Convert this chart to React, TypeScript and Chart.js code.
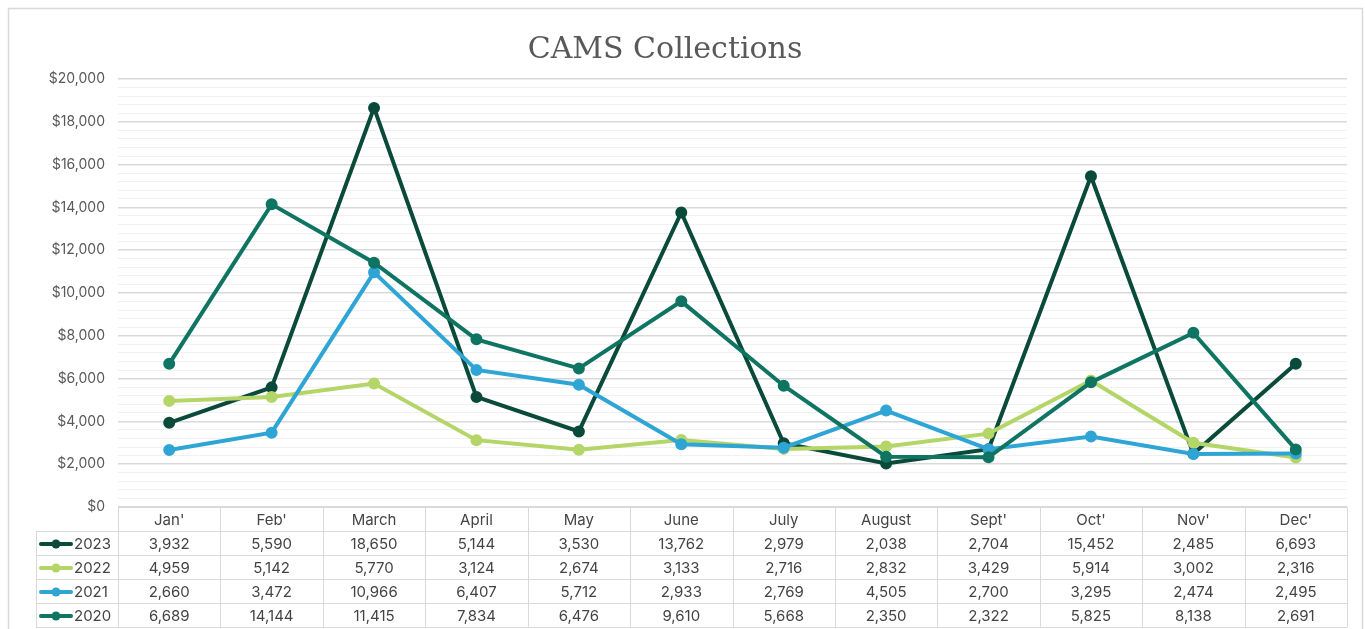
import React, { useEffect, useRef } from 'react';
import { Chart, registerables } from 'chart.js';

Chart.register(...registerables);

const TITLE = 'CAMS Collections';
const MONTHS = ["Jan'", "Feb'", 'March', 'April', 'May', 'June', 'July', 'August', "Sept'", "Oct'", "Nov'", "Dec'"];
const SERIES_NAMES = ['2023', '2022', '2021', '2020'];
const V2023 = [3932, 5590, 18650, 5144, 3530, 13762, 2979, 2038, 2704, 15452, 2485, 6693];
const V2022 = [4959, 5142, 5770, 3124, 2674, 3133, 2716, 2832, 3429, 5914, 3002, 2316];
const V2021 = [2660, 3472, 10966, 6407, 5712, 2933, 2769, 4505, 2700, 3295, 2474, 2495];
const V2020 = [6689, 14144, 11415, 7834, 6476, 9610, 5668, 2350, 2322, 5825, 8138, 2691];
const SERIES_VALUES = [V2023, V2022, V2021, V2020];
const COLORS = ['#0a4a3b', '#b4d568', '#2ea5d5', '#0f7462'];
const Y_MIN = 0;
const Y_MAX = 20000;
const MINOR_STEP = 400;
const MAJOR_STEP = 2000;

const W = 1365;
const H = 629;
const FONT = 'Inter, "Open Sans", sans-serif';

const fmt = (v: number) => v.toLocaleString('en-US');

const decorPlugin = {
  id: 'decor',
  beforeDraw(chart: any) {
    const ctx = chart.ctx;
    ctx.save();
    ctx.fillStyle = '#ffffff';
    ctx.fillRect(0, 0, chart.width, chart.height);
    ctx.strokeStyle = '#d9d9d9';
    ctx.lineWidth = 1.5;
    ctx.strokeRect(8.5, 8.5, 1354, 660);
    ctx.restore();
  },
  afterDraw(chart: any) {
    const ctx = chart.ctx;
    const area = chart.chartArea;
    const xs = chart.scales.x;
    const left = area.left;
    const right = area.right;
    const colW = (right - left) / MONTHS.length;
    const top = area.bottom;
    const rows = [top, top + 24, top + 48, top + 72, top + 96, top + 120];
    const legendLeft = 36;

    ctx.save();
    // title
    ctx.fillStyle = '#595959';
    ctx.font = '30px "DejaVu Serif", serif';
    ctx.textAlign = 'center';
    ctx.textBaseline = 'middle';
    ctx.fillText(TITLE, 665, 50);

    // table grid
    ctx.strokeStyle = '#d9d9d9';
    ctx.lineWidth = 1;
    ctx.beginPath();
    ctx.moveTo(left, rows[0] + 0.5);
    ctx.lineTo(right, rows[0] + 0.5);
    for (let r = 1; r < rows.length; r++) {
      ctx.moveTo(legendLeft, Math.round(rows[r]) + 0.5);
      ctx.lineTo(right, Math.round(rows[r]) + 0.5);
    }
    ctx.moveTo(legendLeft + 0.5, rows[1]);
    ctx.lineTo(legendLeft + 0.5, rows[5]);
    for (let k = 0; k <= MONTHS.length; k++) {
      const x = Math.round(left + k * colW) + 0.5;
      ctx.moveTo(x, rows[0]);
      ctx.lineTo(x, rows[5]);
    }
    ctx.stroke();

    // header
    ctx.fillStyle = '#444444';
    ctx.font = `15px ${FONT}`;
    ctx.textAlign = 'center';
    ctx.textBaseline = 'middle';
    MONTHS.forEach((m, i) => {
      ctx.fillText(m, xs.getPixelForValue(i), (rows[0] + rows[1]) / 2 + 1);
    });

    // rows
    SERIES_NAMES.forEach((name, s) => {
      const yc = (rows[s + 1] + rows[s + 2]) / 2 + 1;
      ctx.strokeStyle = COLORS[s];
      ctx.lineWidth = 4;
      ctx.lineCap = 'round';
      ctx.beginPath();
      ctx.moveTo(41, yc);
      ctx.lineTo(71, yc);
      ctx.stroke();
      ctx.fillStyle = COLORS[s];
      ctx.beginPath();
      ctx.arc(56, yc, 4.5, 0, Math.PI * 2);
      ctx.fill();
      ctx.fillStyle = '#444444';
      ctx.textAlign = 'left';
      ctx.fillText(name, 74, yc);
      ctx.textAlign = 'center';
      SERIES_VALUES[s].forEach((v, i) => {
        ctx.fillText(fmt(v), xs.getPixelForValue(i), yc);
      });
    });
    ctx.restore();
  },
};

export default function App() {
  const ref = useRef<HTMLCanvasElement | null>(null);
  useEffect(() => {
    if (!ref.current) return;
    const chart = new Chart(ref.current, {
      type: 'line',
      data: {
        labels: MONTHS,
        datasets: SERIES_NAMES.map((name, s) => ({
          label: name,
          data: SERIES_VALUES[s],
          borderColor: COLORS[s],
          backgroundColor: COLORS[s],
          pointBackgroundColor: COLORS[s],
          pointBorderColor: COLORS[s],
          borderWidth: 4,
          pointRadius: 5,
          pointBorderWidth: 2,
          tension: 0,
          order: SERIES_NAMES.length - s,
        })),
      },
      options: {
        animation: false,
        responsive: false,
        devicePixelRatio: 1,
        layout: { padding: { left: 0, right: 18, top: 79, bottom: 122 } },
        plugins: {
          legend: { display: false },
          title: { display: false },
          tooltip: { enabled: false },
        },
        scales: {
          x: {
            type: 'category',
            offset: true,
            display: false,
          },
          y: {
            min: Y_MIN,
            max: Y_MAX,
            border: { display: false },
            afterFit: (scale: any) => {
              scale.width = 118;
            },
            grid: {
              drawTicks: false,
              color: (c: any) => (c.tick && c.tick.value % MAJOR_STEP === 0 ? '#d9d9d9' : '#f1f1f1'),
              lineWidth: (c: any) => (c.tick && c.tick.value % MAJOR_STEP === 0 ? 1.6 : 1),
            },
            ticks: {
              stepSize: MINOR_STEP,
              autoSkip: false,
              padding: 13,
              color: '#595959',
              font: { family: FONT, size: 14 },
              callback: (v: any) => (Number(v) % MAJOR_STEP === 0 ? '$' + fmt(Number(v)) : ''),
            },
          },
        },
      },
      plugins: [decorPlugin],
    });
    return () => chart.destroy();
  }, []);
  return (
    <div style={{ position: 'absolute', left: 0, top: 0, width: W, height: H }}>
      <canvas ref={ref} width={W} height={H} style={{ display: 'block', width: W, height: H }} />
    </div>
  );
}
